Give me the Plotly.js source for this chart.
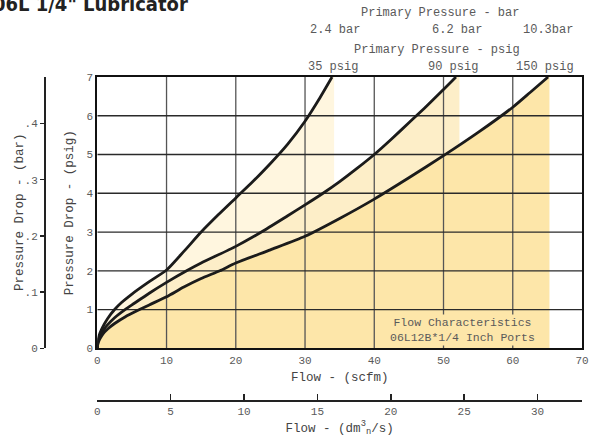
<!DOCTYPE html>
<html>
<head>
<meta charset="utf-8">
<script src="https://cdn.plot.ly/plotly-3.0.1.min.js"></script>
<style>html,body{margin:0;padding:0;background:#fff;}#chart{width:589px;height:448px;}</style>
</head>
<body>
<div id="chart"></div>
<script>
// Flow (scfm) vs pressure drop (psig) for three primary pressures
const seriesNames = ['35 psig', '90 psig', '150 psig'];
const flow35 = [0, 0.1, 0.3, 0.6, 1, 1.5, 2.5, 3.5, 5, 7.5, 10, 12.5, 15, 17.5, 20, 22.5, 25, 27.5, 30, 32, 33.9];
const drop35 = [0, 0.2, 0.35, 0.48, 0.62, 0.77, 1.0, 1.18, 1.4, 1.72, 2.02, 2.5, 3.0, 3.45, 3.88, 4.31, 4.77, 5.27, 5.86, 6.42, 7.0];
const flow90 = [0, 0.1, 0.3, 0.6, 1, 1.5, 2.5, 4, 5, 7.5, 10, 12.9, 15, 20, 23.7, 27.5, 30, 32.6, 35, 37.5, 40, 42.5, 45, 47.5, 50, 51.8];
const drop90 = [0, 0.16, 0.28, 0.39, 0.5, 0.61, 0.79, 1.0, 1.12, 1.42, 1.7, 2.0, 2.2, 2.63, 3.0, 3.42, 3.7, 4.0, 4.3, 4.64, 5.0, 5.4, 5.82, 6.24, 6.68, 7.0];
const flow150 = [0, 0.1, 0.3, 0.6, 1, 1.5, 2.5, 4, 6.1, 7.5, 10, 12.5, 15, 17.7, 20, 25, 30, 35, 40, 45, 50, 55, 60, 62.5, 65.1];
const drop150 = [0, 0.13, 0.22, 0.31, 0.41, 0.5, 0.64, 0.81, 1.0, 1.12, 1.33, 1.58, 1.8, 2.0, 2.2, 2.54, 2.89, 3.35, 3.85, 4.4, 4.97, 5.57, 6.22, 6.6, 7.0];
// flow where each shaded band ends (scfm)
const shadeEnd = [34.2, 52.3, 65.3];
const dropMax = 7; // psig, top of chart

// ticks
const scfmTicks = [0, 10, 20, 30, 40, 50, 60, 70];
const psigTicks = [0, 1, 2, 3, 4, 5, 6, 7];
const barTicks = [0, 0.1, 0.2, 0.3, 0.4];
const barTickText = ['0', '.1', '.2', '.3', '.4'];
const dm3Ticks = [0, 5, 10, 15, 20, 25, 30];
const gridX = [10, 20, 30, 40, 50, 60];
const gridY = [1, 2, 3, 4, 5, 6];

const PSI_PER_BAR = 14.5038;
const DM3S_PER_SCFM = 0.4719;

const shadeColors = ['#fff6df', '#fdeec8', '#fde6a9'];
const curveColor = '#1b1b1b';
const textColor = '#5a5a5a';
const FONT = 'Liberation Mono, Courier New, monospace';
const SMOOTH = 0.6;

const flows = [flow35, flow90, flow150];
const drops = [drop35, drop90, drop150];

const traces = [];
// shaded bands (lightest first)
for (let i = 0; i < 3; i++) {
  traces.push({
    x: flows[i].concat([shadeEnd[i]]),
    y: drops[i].concat([dropMax]),
    mode: 'lines', fill: 'tozeroy', fillcolor: shadeColors[i],
    line: {width: 0, shape: 'spline', smoothing: SMOOTH},
    hoverinfo: 'skip', showlegend: false
  });
}
// grid lines drawn over the shading
const gvx = [], gvy = [];
gridX.forEach(v => { gvx.push(v, v, null); gvy.push(0, dropMax, null); });
traces.push({x: gvx, y: gvy, mode: 'lines', line: {color: '#555', width: 1.3}, hoverinfo: 'skip', showlegend: false});
const ghx = [], ghy = [];
gridY.forEach(v => { ghx.push(0, 70, null); ghy.push(v, v, null); });
traces.push({x: ghx, y: ghy, mode: 'lines', line: {color: '#2a2a2a', width: 1.3}, hoverinfo: 'skip', showlegend: false});
// curves
for (let i = 0; i < 3; i++) {
  traces.push({
    x: flows[i], y: drops[i], name: seriesNames[i],
    mode: 'lines', line: {color: curveColor, width: 2.8, shape: 'spline', smoothing: SMOOTH},
    showlegend: false
  });
}
// dummy traces to activate secondary axes
traces.push({x: [], y: [], xaxis: 'x2', yaxis: 'y', showlegend: false});
traces.push({x: [], y: [], xaxis: 'x', yaxis: 'y2', showlegend: false});

const W = 589, H = 448;
const mL = 44, mR = 7, mT = 77, mB = 48;
const plotW = W - mL - mR, plotH = H - mT - mB;
const px = p => (p - mL) / plotW;
const py = p => (H - mB - p) / plotH;

const tickFont = {family: FONT, size: 11, color: textColor};
const titleFont = {family: FONT, size: 12.5, color: '#444'};
const annFont = {family: FONT, size: 12, color: textColor};

const layout = {
  width: W, height: H,
  margin: {l: mL, r: mR, t: mT, b: mB},
  paper_bgcolor: '#fff', plot_bgcolor: '#fff',
  showlegend: false,
  xaxis: {
    domain: [px(97.3), 1], range: [0, 70], tickvals: scfmTicks, automargin: false,
    showgrid: false, zeroline: false, showline: true, mirror: true,
    linecolor: '#111', linewidth: 2, ticks: '', tickfont: tickFont,
    title: {text: 'Flow - (scfm)', font: titleFont, standoff: 7}
  },
  xaxis2: {
    overlaying: 'x', anchor: 'free', position: 0, side: 'bottom', automargin: false,
    range: [0, 70 * DM3S_PER_SCFM], tickvals: dm3Ticks,
    showgrid: false, zeroline: false, showline: true,
    linecolor: '#222', linewidth: 1.5, ticks: 'inside', ticklen: 6, tickcolor: '#222', tickwidth: 1.5,
    tickfont: tickFont,
    title: {text: 'Flow - (dm<sup>3</sup><sub>n</sub>/s)', font: titleFont, standoff: 6}
  },
  yaxis: {
    domain: [py(348.3), 1], range: [0, dropMax], tickvals: psigTicks, automargin: false,
    showgrid: false, zeroline: false, showline: true, mirror: true,
    linecolor: '#111', linewidth: 2, ticks: '', tickfont: tickFont,
    title: {text: 'Pressure Drop - (psig)', font: titleFont, standoff: 10}
  },
  yaxis2: {
    overlaying: 'y', anchor: 'free', position: 0, side: 'left', automargin: false,
    range: [0, dropMax / PSI_PER_BAR], tickvals: barTicks, ticktext: barTickText,
    showgrid: false, zeroline: false, showline: true,
    linecolor: '#222', linewidth: 1.5, ticks: 'outside', ticklen: 4, tickcolor: '#222', tickwidth: 1.5,
    tickfont: tickFont
  },
  annotations: [
    {text: '06L 1/4" Lubricator', xref: 'paper', yref: 'paper', x: px(-9), y: py(4), xanchor: 'left', yanchor: 'middle',
     showarrow: false, font: {family: 'Liberation Sans Narrow, DejaVu Sans Condensed, sans-serif', size: 20, color: '#222', weight: 'bold'}},
    {text: 'Pressure Drop - (bar)', xref: 'paper', yref: 'paper', x: px(20), y: py(212), textangle: -90,
     xanchor: 'center', yanchor: 'middle', showarrow: false, font: titleFont},
    {text: 'Primary Pressure - bar', xref: 'x', yref: 'paper', x: 49.5, y: py(13), yanchor: 'middle', showarrow: false, font: annFont},
    {text: '2.4 bar', xref: 'x', yref: 'paper', x: 34.3, y: py(30), yanchor: 'middle', showarrow: false, font: annFont},
    {text: '6.2 bar', xref: 'x', yref: 'paper', x: 52.0, y: py(30), yanchor: 'middle', showarrow: false, font: annFont},
    {text: '10.3bar', xref: 'x', yref: 'paper', x: 65.1, y: py(30), yanchor: 'middle', showarrow: false, font: annFont},
    {text: 'Primary Pressure - psig', xref: 'x', yref: 'paper', x: 49.1, y: py(50), yanchor: 'middle', showarrow: false, font: annFont},
    {text: '35 psig', xref: 'x', yref: 'paper', x: 34.0, y: py(67), yanchor: 'middle', showarrow: false, font: annFont},
    {text: '90 psig', xref: 'x', yref: 'paper', x: 51.4, y: py(67), yanchor: 'middle', showarrow: false, font: annFont},
    {text: '150 psig', xref: 'x', yref: 'paper', x: 64.7, y: py(67), yanchor: 'middle', showarrow: false, font: annFont},
    {text: 'Flow Characteristics<br>06L12B*1/4 Inch Ports', xref: 'x', yref: 'y', x: 52.8, y: 0.48,
     showarrow: false, bgcolor: shadeColors[2], borderpad: 1, align: 'center',
     font: {family: FONT, size: 11.5, color: textColor}}
  ]
};

Plotly.newPlot('chart', traces, layout, {staticPlot: true, displayModeBar: false});
</script>
</body>
</html>
